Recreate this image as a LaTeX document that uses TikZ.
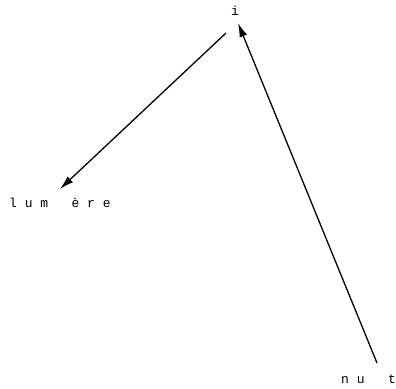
\documentclass[tikz,border=0pt]{standalone}
\usepackage{fontspec}
\setmonofont{Liberation Mono}
\usepackage{tikz}
\usetikzlibrary{arrows.meta}

\begin{document}
\begin{tikzpicture}[x=1pt,y=-1pt,>={Latex[length=14pt,width=8pt]},
 word/.style={inner sep=0pt,font=\ttfamily\fontsize{13}{13}\selectfont},
 link/.style={->,line width=1.3pt}]
\useasboundingbox (0,0) rectangle (396,388);
\node[word,anchor=base] (i) at (235,15) {i};
\node[word,anchor=base west] (lum) at (9,207) {l~u~m~~~è~r~e};
\node[word,anchor=base west] (nut) at (341,383) {n~u~~~t};
% ends of the arrows, at the places of the missing letters
\coordinate (i-out) at (226,33);
\coordinate (i-in) at (238,23);
\coordinate (lum-gap) at (60,189);
\coordinate (nut-gap) at (377,363);
\draw[link] (i-out)--(lum-gap);
\draw[link] (nut-gap)--(i-in);
\end{tikzpicture}
\end{document}
